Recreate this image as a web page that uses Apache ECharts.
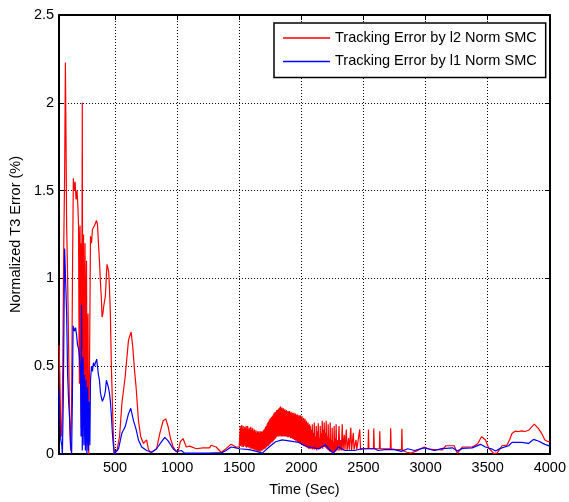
<!DOCTYPE html>
<html>
<head>
<meta charset="utf-8">
<script src="https://cdn.jsdelivr.net/npm/echarts@6/dist/echarts.min.js"></script>
<style>
  html, body { margin: 0; padding: 0; background: #fff; }
  #chart { width: 569px; height: 502px; }
</style>
</head>
<body>
<div id="chart"></div>
<script>
// Normalized T3 tracking error over time, [time (s), error (%)]
const l2NormError = [
  [50,0.62],[56,0.45],[64,0.15],[72,0.1],[80,0.5],[88,1.2],[95,1.6],[101,2.23],[106,1.8],[111,1.3],
  [119,1.0],[127,0.6],[135,0.2],[143,0.02],[151,0.3],[159,1.1],[165,1.57],[171,1.5],[179,1.55],[187,1.45],
  [195,1.5],[202,1.4],[207,1.3],[211,0.6],[214,0.4],[217,1.25],[219,1.3],[222,0.5],[226,1.2],[229,0.15],
  [231,0.3],[234,1.1],[237,2.0],[240,0.6],[242,0.9],[245,0.2],[247,1.25],[250,0.4],[253,0.1],[256,1.0],
  [259,1.2],[262,0.3],[265,0.2],[268,0.9],[271,1.1],[274,0.4],[277,0.05],[280,0.7],[283,0.8],[286,0.1],
  [289,0.0],[292,0.3],[295,0.5],[303,1.24],[311,1.2],
  [319,1.28],[327,1.27],[335,1.3],[343,1.29],[351,1.33],[359,1.31],[367,1.2],[375,1.1],[383,0.98],[391,0.88],
  [396,0.78],[403,0.8],[409,0.84],[416,0.87],[423,0.9],[431,1.02],[436,1.08],[443,1.06],[449,1.04],[455,0.96],
  [463,0.8],[471,0.5],[479,0.3],[487,0.1],[494,0.0],[503,0.005],[516,0.02],[537,0.1],[556,0.29],[582,0.44],
  [609,0.65],[630,0.695],[643,0.61],[657,0.48],[670,0.38],[689,0.19],[707,0.1],[729,0.06],[742,0.05],[755,0.08],
  [768,0.03],[782,0.01],[808,0.015],[835,0.03],[862,0.12],[888,0.19],[909,0.2],[928,0.155],[947,0.088],[968,0.04],
  [989,0.02],[1008,0.013],[1026,0.07],[1048,0.088],[1074,0.04],[1101,0.045],[1154,0.03],[1207,0.035],[1261,0.035],[1274,0.05],
  [1314,0.04],[1354,0.01],[1394,0.03],[1434,0.056],[1474,0.04],[1500,0.04],
  // fast oscillation after 1500 s
  [1505,0.03],[1508,0.16],[1511,0.045],[1514,0.15],[1517,0.05],[1520,0.165],[1523,0.04],[1526,0.145],[1529,0.05],[1532,0.16],
  [1535,0.04],[1538,0.14],[1541,0.05],[1544,0.155],[1547,0.045],[1550,0.15],[1553,0.04],[1556,0.16],[1559,0.035],[1562,0.145],
  [1565,0.04],[1568,0.16],[1571,0.04],[1574,0.14],[1577,0.035],[1580,0.15],[1583,0.04],[1586,0.145],[1589,0.03],[1592,0.155],
  [1595,0.035],[1598,0.14],[1601,0.03],[1604,0.15],[1607,0.03],[1610,0.145],[1613,0.025],[1616,0.13],[1619,0.03],[1622,0.14],
  [1625,0.02],[1628,0.125],[1631,0.025],[1634,0.135],[1637,0.02],[1640,0.12],[1643,0.02],[1646,0.13],[1649,0.015],[1652,0.125],
  [1655,0.02],[1658,0.13],[1661,0.015],[1664,0.12],[1667,0.02],[1670,0.13],[1673,0.015],[1676,0.125],[1679,0.02],[1682,0.13],
  [1685,0.02],[1688,0.125],[1691,0.025],[1694,0.135],[1697,0.025],[1700,0.14],[1703,0.03],[1706,0.145],[1709,0.03],[1712,0.155],
  [1715,0.035],[1718,0.16],[1721,0.04],[1724,0.17],[1727,0.045],[1730,0.18],[1733,0.045],[1736,0.185],[1739,0.05],[1742,0.195],
  [1745,0.055],[1748,0.2],[1751,0.06],[1754,0.205],[1757,0.065],[1760,0.21],[1763,0.065],[1766,0.215],[1769,0.07],[1772,0.22],
  [1775,0.075],[1778,0.23],[1781,0.08],[1784,0.235],[1787,0.085],[1790,0.24],[1793,0.09],[1796,0.24],[1799,0.095],[1802,0.25],
  [1805,0.1],[1808,0.25],[1811,0.1],[1814,0.255],[1817,0.1],[1820,0.26],[1823,0.105],[1826,0.265],[1829,0.1],[1832,0.27],
  [1835,0.105],[1838,0.26],[1841,0.1],[1844,0.265],[1847,0.1],[1850,0.255],[1853,0.105],[1856,0.26],[1859,0.1],[1862,0.25],
  [1865,0.1],[1868,0.255],[1871,0.1],[1874,0.245],[1877,0.1],[1880,0.25],[1883,0.1],[1886,0.24],[1889,0.095],[1892,0.245],
  [1895,0.095],[1898,0.24],[1901,0.1],[1904,0.245],[1907,0.095],[1910,0.235],[1913,0.09],[1916,0.24],[1919,0.09],[1922,0.23],
  [1925,0.09],[1928,0.235],[1931,0.085],[1934,0.23],[1937,0.085],[1940,0.235],[1943,0.08],[1946,0.225],[1949,0.08],[1952,0.23],
  [1955,0.075],[1958,0.225],[1961,0.075],[1964,0.22],[1967,0.07],[1970,0.225],[1973,0.07],[1976,0.215],[1979,0.065],[1982,0.22],
  [1985,0.065],[1988,0.215],[1991,0.06],[1994,0.22],[1997,0.06],[2000,0.21],[2003,0.055],[2006,0.215],[2009,0.05],[2012,0.2],
  [2015,0.05],[2018,0.205],[2021,0.045],[2024,0.195],[2027,0.045],[2030,0.2],[2033,0.04],[2036,0.185],[2039,0.04],[2042,0.19],
  [2045,0.035],[2048,0.175],[2051,0.035],[2054,0.18],[2057,0.03],[2060,0.165],[2063,0.03],[2066,0.17],[2069,0.03],[2072,0.16],
  [2075,0.03],
  [2080,0.14],[2084,0.03],[2088,0.17],[2092,0.025],[2096,0.12],[2100,0.03],[2104,0.18],[2108,0.025],[2112,0.1],[2116,0.03],
  [2120,0.16],[2124,0.02],[2128,0.13],[2132,0.03],[2136,0.175],[2140,0.025],[2144,0.09],[2148,0.03],[2152,0.16],[2156,0.03],
  [2160,0.12],[2164,0.035],[2168,0.19],[2172,0.03],[2176,0.14],[2180,0.04],[2184,0.18],[2188,0.04],[2192,0.12],[2196,0.035],
  [2200,0.19],[2204,0.03],[2208,0.1],[2212,0.025],[2216,0.17],[2220,0.02],[2224,0.09],[2228,0.015],[2232,0.18],[2236,0.015],
  [2240,0.08],[2244,0.01],[2248,0.15],[2252,0.01],[2256,0.07],[2260,0.01],[2264,0.16],[2268,0.015],[2272,0.09],[2276,0.015],
  [2280,0.17],[2284,0.02],[2290,0.08],[2296,0.02],[2303,0.16],[2309,0.02],[2316,0.08],[2322,0.02],[2329,0.17],[2335,0.02],
  [2345,0.11],[2351,0.025],[2362,0.14],[2368,0.02],[2380,0.09],[2386,0.025],[2398,0.15],[2404,0.02],[2418,0.12],[2424,0.025],
  [2440,0.08],[2446,0.025],[2470,0.14],[2476,0.025],[2500,0.03],[2537,0.03],[2540,0.14],[2544,0.03],[2580,0.03],[2583,0.145],
  [2587,0.03],[2628,0.03],[2631,0.13],[2635,0.03],[2680,0.03],[2716,0.03],[2719,0.146],[2723,0.03],[2760,0.025],[2806,0.025],
  [2809,0.144],[2813,0.02],
  // slow drift to the end of the run
  [2850,0.01],[2880,0.005],[2920,0.015],[2960,0.03],[2990,0.04],[3020,0.03],[3060,0.025],[3100,0.025],[3136,0.023],[3163,0.047],
  [3230,0.047],[3256,0.003],[3296,0.04],[3375,0.04],[3400,0.05],[3420,0.06],[3450,0.098],[3482,0.08],[3508,0.033],[3548,0.003],
  [3575,0.005],[3615,0.047],[3655,0.05],[3675,0.08],[3695,0.117],[3720,0.13],[3748,0.128],[3775,0.132],[3800,0.128],[3828,0.135],
  [3841,0.13],[3875,0.17],[3907,0.146],[3934,0.117],[3960,0.08],[3987,0.07],[4000,0.07]
];

const l1NormError = [
  [50,0.36],[56,0.2],[64,0.08],[72,0.05],[77,0.0],[84,0.3],[90,0.8],[95,1.17],[103,1.17],[111,0.8],
  [119,0.45],[127,0.3],[135,0.2],[143,0.05],[151,0.0],[157,0.3],[163,0.73],[170,0.74],[175,0.7],[183,0.72],
  [191,0.68],[199,0.62],[207,0.6],[215,0.55],[223,0.45],[227,0.1],[231,0.85],[237,0.02],[243,0.55],[250,0.05],
  [255,0.45],[262,0.02],[267,0.42],[274,0.0],[279,0.38],[286,0.02],[291,0.3],[298,0.05],[303,0.42],[311,0.5],
  [319,0.47],[327,0.52],[335,0.5],[343,0.52],[353,0.54],[359,0.5],[367,0.45],[375,0.42],[383,0.35],[391,0.32],
  [399,0.3],[407,0.31],[415,0.33],[423,0.36],[431,0.42],[439,0.43],[447,0.38],[455,0.35],[463,0.3],[471,0.22],
  [479,0.12],[487,0.05],[495,0.0],[503,0.003],[529,0.03],[556,0.12],[582,0.155],[609,0.23],[627,0.26],[649,0.19],
  [670,0.14],[689,0.08],[715,0.04],[755,0.02],[795,0.01],[835,0.03],[875,0.07],[901,0.095],[928,0.075],[968,0.03],
  [995,0.013],[1034,0.02],[1061,0.005],[1150,0.005],[1250,0.005],[1360,0.008],[1394,0.02],[1434,0.04],[1474,0.035],[1500,0.03],
  [1580,0.025],[1640,0.015],[1686,0.005],[1740,0.04],[1793,0.07],[1846,0.08],[1900,0.075],[1940,0.07],[1979,0.066],[2020,0.05],
  [2059,0.04],[2139,0.03],[2192,0.053],[2232,0.02],[2258,0.005],[2298,0.04],[2324,0.03],[2351,0.02],[2430,0.02],[2484,0.03],
  [2590,0.03],[2617,0.02],[2670,0.025],[2750,0.025],[2803,0.015],[2856,0.03],[2910,0.02],[2990,0.035],[3070,0.02],[3136,0.032],
  [3163,0.032],[3216,0.035],[3256,0.017],[3296,0.032],[3375,0.035],[3442,0.055],[3482,0.04],[3535,0.028],[3562,0.017],[3602,0.032],
  [3668,0.047],[3695,0.066],[3775,0.066],[3828,0.06],[3868,0.083],[3907,0.074],[3960,0.055],[4000,0.045]
];

const seriesNames = ['Tracking Error by l2 Norm SMC', 'Tracking Error by l1 Norm SMC'];
const seriesColors = ['#ff0000', '#0000ff'];
const timeTicks = [500, 1000, 1500, 2000, 2500, 3000, 3500, 4000];
const errorTicks = [0, 0.5, 1, 1.5, 2, 2.5];

const FONT = '"Liberation Sans", Arial, sans-serif';
const chart = echarts.init(document.getElementById('chart'), null, { renderer: 'canvas' });

const gridLine = { show: true, lineStyle: { color: '#000', width: 1, type: [1, 2] } };
const frameLine = { show: true, onZero: false, lineStyle: { color: '#000', width: 2 } };
const innerTick = { show: true, inside: true, length: 5, lineStyle: { color: '#000', width: 1 } };
const plain = (v) => String(v);

chart.setOption({
  animation: false,
  backgroundColor: '#fff',
  textStyle: { fontFamily: FONT },
  grid: { left: 58, right: 15.5, top: 15, bottom: 48, containLabel: false },
  legend: {
    orient: 'vertical',
    left: 274,
    top: 23,
    padding: [7, 9, 8, 9],
    itemGap: 7.4,
    itemWidth: 47,
    itemHeight: 1.5,
    icon: 'rect',
    backgroundColor: '#fff',
    borderColor: '#000',
    borderWidth: 1.5,
    borderRadius: 0,
    textStyle: { fontFamily: FONT, fontSize: 14.5, color: '#000', lineHeight: 16 },
    data: seriesNames
  },
  xAxis: [{
    type: 'value',
    min: 50,
    max: 4000,
    name: 'Time (Sec)',
    nameLocation: 'middle',
    nameGap: 28,
    nameTextStyle: { fontFamily: FONT, fontSize: 14.5, color: '#000' },
    axisLine: frameLine,
    axisTick: Object.assign({ customValues: timeTicks }, innerTick),
    axisLabel: { customValues: timeTicks, formatter: plain, margin: 6, fontFamily: FONT, fontSize: 14.5, color: '#000' },
    splitLine: gridLine
  }, {
    type: 'value',
    position: 'top',
    min: 50,
    max: 4000,
    axisLine: frameLine,
    axisTick: Object.assign({ customValues: timeTicks }, innerTick),
    axisLabel: { show: false },
    splitLine: { show: false }
  }],
  yAxis: [{
    type: 'value',
    min: 0,
    max: 2.5,
    interval: 0.5,
    name: 'Normalized T3 Error (%)',
    nameLocation: 'middle',
    nameGap: 34,
    nameTextStyle: { fontFamily: FONT, fontSize: 14.5, color: '#000' },
    axisLine: frameLine,
    axisTick: Object.assign({ customValues: errorTicks }, innerTick),
    axisLabel: { customValues: errorTicks, formatter: plain, margin: 5, fontFamily: FONT, fontSize: 14.5, color: '#000' },
    splitLine: gridLine
  }, {
    type: 'value',
    position: 'right',
    min: 0,
    max: 2.5,
    interval: 0.5,
    axisLine: frameLine,
    axisTick: innerTick,
    axisLabel: { show: false },
    splitLine: { show: false }
  }],
  series: [{
    name: seriesNames[0],
    type: 'line',
    data: l2NormError,
    showSymbol: false,
    symbol: 'none',
    color: seriesColors[0],
    lineStyle: { color: seriesColors[0], width: 1.2 },
    clip: true
  }, {
    name: seriesNames[1],
    type: 'line',
    data: l1NormError,
    showSymbol: false,
    symbol: 'none',
    color: seriesColors[1],
    lineStyle: { color: seriesColors[1], width: 1.2 },
    clip: true
  }]
});
</script>
</body>
</html>
